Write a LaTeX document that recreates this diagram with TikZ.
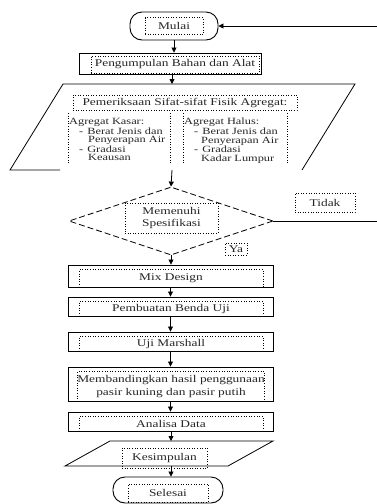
\documentclass[tikz,border=0pt]{standalone}
\usepackage{fontspec}
\setmainfont{Liberation Serif}[FakeStretch=1.3]
\usetikzlibrary{arrows.meta,shapes.geometric}
\begin{document}
\begin{tikzpicture}[x=1pt,y=-1pt,
  box/.style={draw,line width=0.9pt,inner sep=0},
  tbox/.style={draw,dotted,line width=0.6pt,inner sep=0,align=center,font=\fontsize{10.3}{12.5}\selectfont,text=black!85},
  term/.style={draw,line width=0.9pt,rounded corners=12pt,inner sep=0},
  coltext/.style={anchor=north west,inner sep=0,align=left,font=\fontsize{9.5}{8.6}\selectfont,text=black!85},
  dotline/.style={dotted,line width=0.6pt},
  arr/.style={-{Triangle[length=5pt,width=5pt]},line width=0.8pt},
  ln/.style={line width=0.8pt}]
\useasboundingbox (0,0) rectangle (377,504);
\fill[white] (0,0) rectangle (377,504);

% Mulai
\node[term,minimum width=88pt,minimum height=28pt] (mulai) at (174,26) {};
\node[tbox,minimum width=58pt,minimum height=17pt] (tmulai) at (174,26) {Mulai};

% Pengumpulan
\node[box,minimum width=182pt,minimum height=21pt] (peng) at (170,63.5) {};
\node[tbox,minimum width=168pt,minimum height=17pt] (tpeng) at (175,64.5) {Pengumpulan Bahan dan Alat};

% Pemeriksaan parallelogram
\coordinate (paratop) at (172,84);
\coordinate (parabot) at (172,170);
\draw[ln] (60,170) -- (10,170) -- (63,84) -- (355,84) -- (302,170);
\node[tbox,minimum width=224pt,minimum height=15pt] (ttl) at (185,102.5) {Pemeriksaan Sifat-sifat Fisik Agregat:};
\draw[dotline] (68,113) -- (68,164);
\draw[dotline] (170,113) -- (170,164);
\draw[dotline] (183,113) -- (183,164);
\draw[dotline] (287,113) -- (287,164);
\node[coltext] (colL) at (69,118) {Agregat Kasar:\\\hspace*{10pt}-\hspace{4pt}Berat Jenis dan\\\hspace*{19pt}Penyerapan Air\\\hspace*{10pt}-\hspace{4pt}Gradasi\\\hspace*{19pt}Keausan};
\node[coltext] (colR) at (184,118) {Agregat Halus:\\\hspace*{10pt}-\hspace{4pt}Berat Jenis dan\\\hspace*{17pt}Penyerapan Air\\\hspace*{10pt}-\hspace{4pt}Gradasi\\\hspace*{17pt}Kadar Lumpur};

% Decision
\node[draw,diamond,dash pattern=on 6pt off 3pt,line width=0.8pt,minimum width=204pt,minimum height=68pt,inner sep=0] (dia) at (171,221) {};
\node[tbox,minimum width=93pt,minimum height=30pt] (tdia) at (171.5,218) {Memenuhi\\Spesifikasi};
\node[tbox,minimum width=60pt,minimum height=19pt] (tidak) at (325,202.5) {Tidak};
\node[tbox,minimum width=22pt,minimum height=12pt] (ya) at (236,249) {Ya};

% Process boxes
\node[box,minimum width=205pt,minimum height=22pt] (mix) at (170.5,276) {};
\node[tbox,minimum width=184pt,minimum height=18pt] (tmix) at (171,278.5) {Mix Design};
\node[box,minimum width=205pt,minimum height=19pt] (pemb) at (170.5,306.5) {};
\node[tbox,minimum width=184pt,minimum height=15.5pt] (tpemb) at (171,309) {Pembuatan Benda Uji};
\node[box,minimum width=205pt,minimum height=19pt] (uji) at (170.5,341.5) {};
\node[tbox,minimum width=184pt,minimum height=15.5pt] (tuji) at (171,344) {Uji Marshall};
\node[box,minimum width=205pt,minimum height=34pt] (memb) at (170.5,384) {};
\node[tbox,minimum width=184pt,minimum height=30pt] (tmemb) at (171,386.5) {Membandingkan hasil penggunaan\\pasir kuning dan pasir putih};
\node[box,minimum width=205pt,minimum height=19pt] (anal) at (170.5,421.5) {};
\node[tbox,minimum width=184pt,minimum height=15.5pt] (tanal) at (171,424) {Analisa Data};

% Kesimpulan parallelogram
\coordinate (kestop) at (171,441);
\coordinate (kesbot) at (171,466);
\draw[ln] (110,441) -- (273,441) -- (228,466) -- (65,466) -- cycle;
\node[tbox,minimum width=85pt,minimum height=20pt] (tkes) at (164.5,458) {Kesimpulan};

% Selesai
\node[term,minimum width=110pt,minimum height=26pt] (selesai) at (168,490) {};
\node[tbox,minimum width=80pt,minimum height=18pt] (tsel) at (168,493) {Selesai};

% Connectors
\coordinate (fbr) at (379,221);
\coordinate (fbt) at (379,26);
\draw[arr] (mulai.south) -- (mulai.south |- peng.north);
\draw[arr] (peng.south -| paratop) -- (paratop);
\draw[arr] (parabot) -- (dia.north);
\draw[ln] (dia.east) -- (fbr) -- (fbt);
\draw[arr] (fbt) -- (mulai.east);
\draw[arr] (dia.south) -- (dia.south |- mix.north);
\draw[arr] (mix.south) -- (pemb.north);
\draw[arr] (pemb.south) -- (uji.north);
\draw[arr] (uji.south) -- (memb.north);
\draw[arr] (memb.south) -- (anal.north);
\draw[arr] (anal.south -| kestop) -- (kestop);
\draw[arr] (kesbot) -- (kesbot |- selesai.north);
\end{tikzpicture}
\end{document}
